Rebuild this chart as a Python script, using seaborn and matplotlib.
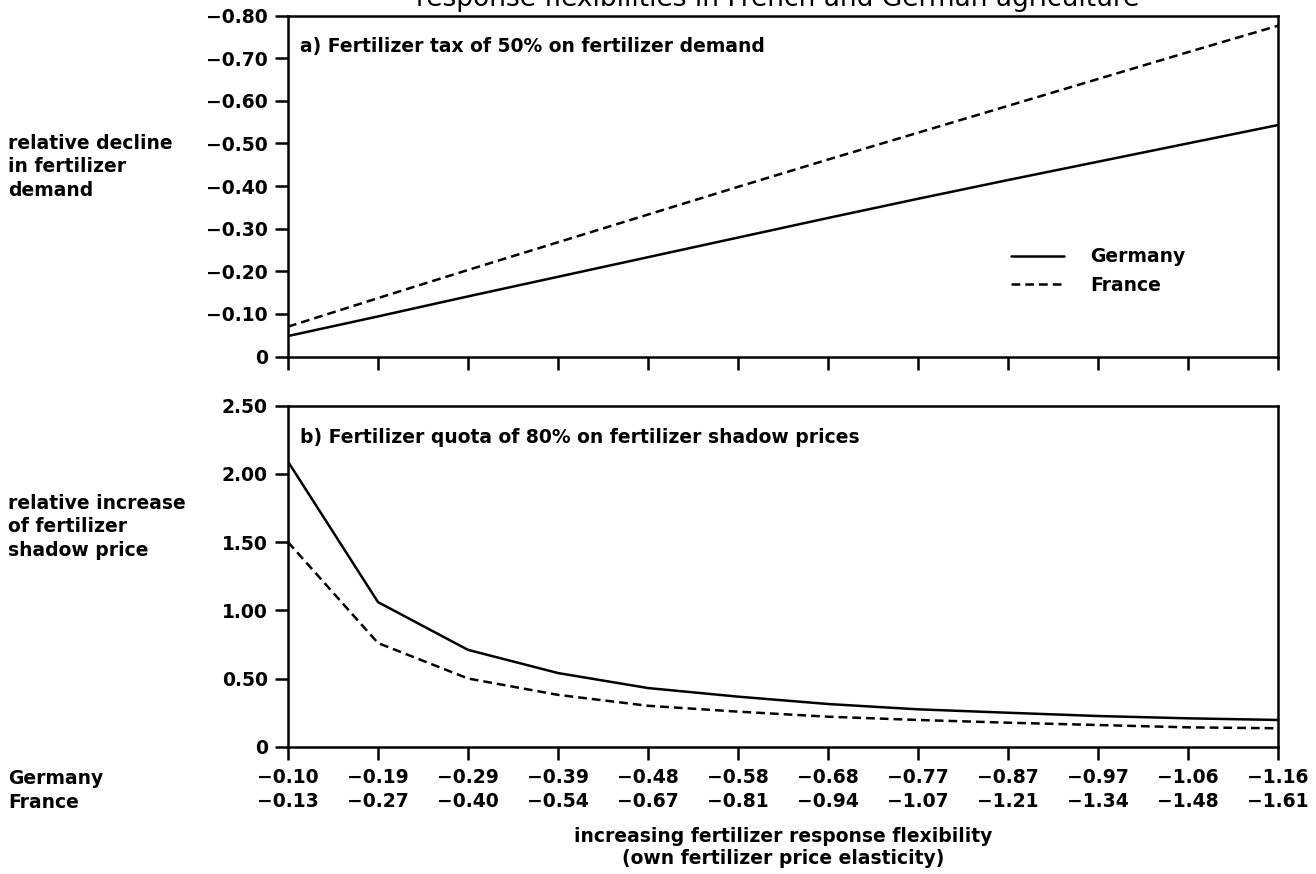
import numpy as np
import pandas as pd
import matplotlib.pyplot as plt
import seaborn as sns

# elasticities shown under the x axis (Germany row / France row)
elast_germany = [-0.10, -0.19, -0.29, -0.39, -0.48, -0.58, -0.68, -0.77, -0.87, -0.97, -1.06, -1.16]
elast_france = [-0.13, -0.27, -0.40, -0.54, -0.67, -0.81, -0.94, -1.07, -1.21, -1.34, -1.48, -1.61]

# a) relative decline in fertilizer demand (tax 50%)
tax_germany = [-0.048, -0.094, -0.141, -0.187, -0.233, -0.279, -0.325, -0.370, -0.414, -0.457, -0.500, -0.543]
tax_france = [-0.070, -0.137, -0.203, -0.268, -0.333, -0.398, -0.462, -0.525, -0.588, -0.651, -0.714, -0.776]

# b) relative increase of fertilizer shadow price (quota 80%)
quota_germany = [2.09, 1.06, 0.71, 0.54, 0.43, 0.367, 0.313, 0.274, 0.249, 0.225, 0.208, 0.196]
quota_france = [1.50, 0.76, 0.50, 0.38, 0.30, 0.257, 0.22, 0.196, 0.176, 0.159, 0.142, 0.135]

top_yticks = [0, -0.10, -0.20, -0.30, -0.40, -0.50, -0.60, -0.70, -0.80]
bot_yticks = [0, 0.50, 1.00, 1.50, 2.00, 2.50]

steps = list(range(len(elast_germany)))
df = pd.DataFrame({
    "step": steps * 2,
    "country": ["Germany"] * len(steps) + ["France"] * len(steps),
    "tax": tax_germany + tax_france,
    "quota": quota_germany + quota_france,
})

sns.set_theme(style="ticks")
plt.rcParams["font.family"] = ["DejaVu Sans"]
plt.rcParams["font.weight"] = "bold"
plt.rcParams["text.color"] = "black"
plt.rcParams["axes.linewidth"] = 1.8

FS = 13.5
W, H = 1316, 874
fig = plt.figure(figsize=(W / 100, H / 100), dpi=100)
left, right = 288 / W, 1278 / W
ax1 = fig.add_axes([left, 1 - 356.5 / H, right - left, 341 / H])
ax2 = fig.add_axes([left, 1 - 746.7 / H, right - left, 341 / H])

dashes = {"Germany": "", "France": (3.5, 2)}
sns.lineplot(data=df, x="step", y="tax", style="country", dashes=dashes,
             color="black", lw=1.8, ax=ax1, legend=False)
sns.lineplot(data=df, x="step", y="quota", style="country", dashes=dashes,
             color="black", lw=1.8, ax=ax2, legend=False)

fmt = lambda v: "0" if v == 0 else f"{v:.2f}".replace("-", "\u2212")

for ax in (ax1, ax2):
    ax.set_xlim(0, len(steps) - 1)
    ax.set_xticks(steps)
    ax.set_xlabel("")
    ax.set_ylabel("")
    for s in ax.spines.values():
        s.set_visible(True)
        s.set_linewidth(1.8)
        s.set_color("black")
    ax.tick_params(direction="out", length=9.5, width=1.8, colors="black",
                   labelsize=FS, pad=5)

ax1.set_ylim(0, -0.8)
ax1.set_yticks(top_yticks)
ax1.set_yticklabels([fmt(v) for v in top_yticks])
ax1.set_xticklabels([])

ax2.set_ylim(0, 2.5)
ax2.set_yticks(bot_yticks)
ax2.set_yticklabels([fmt(v) for v in bot_yticks])
ax2.set_xticklabels([f"{fmt(g)}\n{fmt(f)}" for g, f in zip(elast_germany, elast_france)])
for t in ax2.get_xticklabels():
    t.set_linespacing(1.3)
ax2.tick_params(axis="x", pad=6)

ax1.text(0.012, 0.908, "a) Fertilizer tax of 50% on fertilizer demand",
         transform=ax1.transAxes, fontsize=FS, va="center")
ax2.text(0.012, 0.908, "b) Fertilizer quota of 80% on fertilizer shadow prices",
         transform=ax2.transAxes, fontsize=FS, va="center")

ax1.legend(handles=ax1.lines[:2], labels=["Germany", "France"], frameon=False,
           fontsize=FS, handlelength=2.8, handletextpad=1.4, borderpad=0,
           loc="upper left", bbox_to_anchor=(1002 / W, 1 - 238 / H),
           bbox_transform=fig.transFigure)

# left-hand descriptions
fig.text(8 / W, 1 - 167 / H, "relative decline\nin fertilizer\ndemand",
         fontsize=FS, va="center", linespacing=1.3)
fig.text(8 / W, 1 - 527 / H, "relative increase\nof fertilizer\nshadow price",
         fontsize=FS, va="center", linespacing=1.3)
fig.text(8 / W, 1 - 778 / H, "Germany", fontsize=FS, va="center")
fig.text(8 / W, 1 - 803 / H, "France", fontsize=FS, va="center")

fig.text(783 / W, 1 - 847 / H,
         "increasing fertilizer response flexibility\n(own fertilizer price elasticity)",
         fontsize=FS, ha="center", va="center", linespacing=1.2)

# title, mostly cut off at the top edge in the source
fig.text(778 / W, 1 - 6 / H, "response flexibilities in French and German agriculture",
         fontsize=19, fontweight="normal", ha="center", va="baseline")

fig.savefig("out.png", dpi=100, facecolor="white")
